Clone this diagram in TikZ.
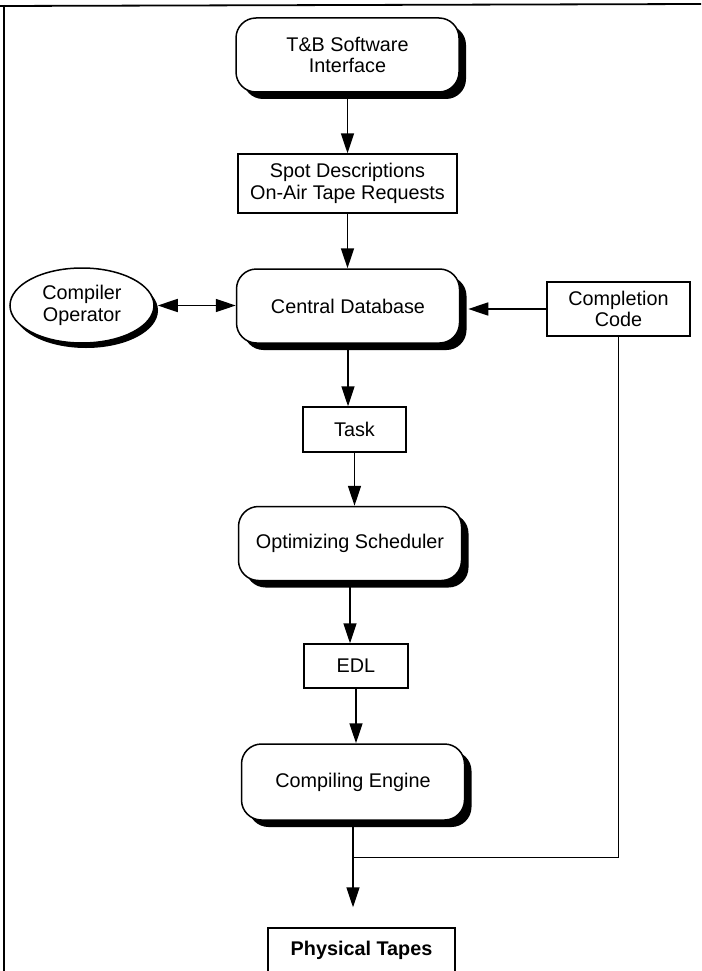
\documentclass[tikz,border=0pt]{standalone}
\usepackage{fontspec}
\setmainfont{Liberation Sans}
\usetikzlibrary{arrows.meta,shapes.geometric,shadows}

\begin{document}
\begin{tikzpicture}[x=1pt,y=-1pt,
    every node/.style={font=\fontsize{19.8}{21.5}\selectfont,align=center},
    rbox/.style={draw,line width=1.5pt,fill=white,rounded corners=20pt,
      minimum width=223pt,minimum height=74pt,inner sep=0pt,
      drop shadow={shadow xshift=7pt,shadow yshift=-7pt,fill=black,opacity=1}},
    sbox/.style={draw,line width=1.4pt,fill=white,inner sep=0pt},
    obox/.style={draw,line width=1.5pt,fill=white,ellipse,inner sep=0pt,
      minimum width=144pt,minimum height=75pt,
      drop shadow={shadow xshift=4pt,shadow yshift=-5pt,fill=black,opacity=1}},
    arr/.style={line width=1.6pt,-{Triangle[length=20pt,width=13pt]}},
    arrd/.style={line width=1.6pt,{Triangle[length=20pt,width=13pt]}-{Triangle[length=20pt,width=13pt]}}]
  \useasboundingbox (0,0) rectangle (701,971);

  % page frame (top and left rules)
  \draw[line width=1.8pt] (0,6) -- (701,4);
  \draw[line width=1.8pt] (4,5) -- (4,971);

  % main chain
  \node[rbox] (tbsi) at (347.5,55) {T\&B Software\\Interface};
  \node[sbox,minimum width=219pt,minimum height=59pt] (spot) at (347.5,183.5)
        {Spot Descriptions\\On-Air Tape Requests};
  \node[rbox] (cdb) at (348,306) {Central Database};
  \node[obox] (oper) at (82,305.5) {Compiler\\Operator};
  \node[sbox,minimum width=143pt,minimum height=54pt] (comp) at (618.5,309)
        {Completion\\Code};
  \node[sbox,minimum width=103pt,minimum height=45pt] (task) at (354.5,429.5) {Task};
  \node[rbox] (opt) at (350,543.5) {Optimizing Scheduler};
  \node[sbox,minimum width=104pt,minimum height=44pt] (edl) at (356,666) {EDL};
  \node[rbox,minimum height=76pt] (cmpe) at (353,782) {Compiling Engine};
  \node[sbox,minimum width=187pt,minimum height=44pt,font=\fontsize{19.8}{21.5}\selectfont\bfseries]
        (tapes) at (361.5,950) {Physical Tapes};

  % connectors
  \draw[arr] (tbsi.south) -- (tbsi.south |- spot.north);
  \draw[arr] (spot.south) -- (spot.south |- cdb.north);
  \draw[arr] (cdb.south) -- (cdb.south |- task.north);
  \draw[arr] (task.south) -- (task.south |- opt.north);
  \draw[arr] (opt.south) -- (opt.south |- edl.north);
  \draw[arr] (edl.south) -- (edl.south |- cmpe.north);
  \draw[arrd] ([xshift=3pt]oper.east) -- (cdb.west |- oper.east);
  \coordinate (cdbr) at ([xshift=8pt]cdb.east);
  \draw[arr] (comp.west) -- (cdbr |- comp.west);

  % completion code feedback joins the engine output
  \coordinate (merge) at ([yshift=-37pt]cmpe.south);
  \draw[line width=1.4pt] (comp.south) |- (merge);
  \draw[arr,shorten >=20pt] (cmpe.south) -- (cmpe.south |- tapes.north);
\end{tikzpicture}
\end{document}
